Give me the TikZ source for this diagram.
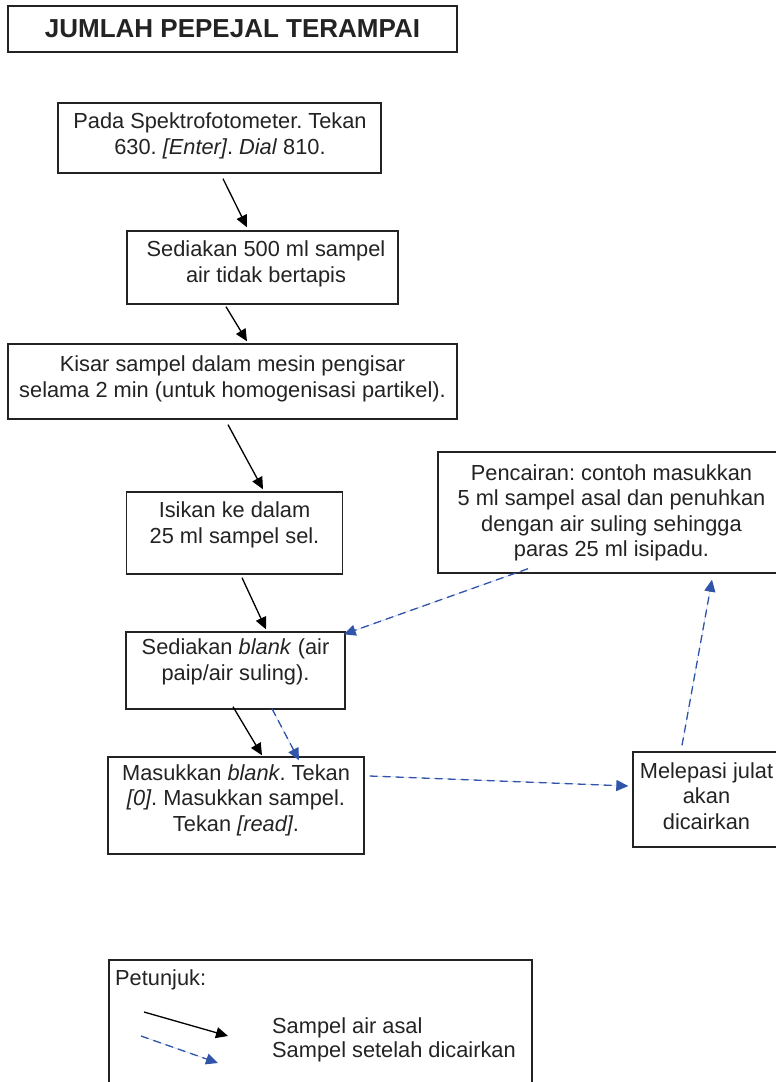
\documentclass[tikz,border=0pt]{standalone}
\usepackage{fontspec}
\setmainfont{Liberation Sans}
\usetikzlibrary{arrows.meta,calc}
\definecolor{dblue}{RGB}{47,84,170}
\definecolor{ink}{RGB}{35,35,35}
\frenchspacing
\begin{document}
\begin{tikzpicture}[x=1pt,y=-1pt,
  box/.style={draw=ink,line width=1.4pt,inner sep=0pt,rectangle},
  txt/.style={font=\fontsize{21.8}{25.5}\selectfont,align=center,text=ink,inner sep=0pt},
  arr/.style={-{Triangle[length=12pt,width=11pt]},line width=1.3pt,draw=black,fill=black},
  darr/.style={-{Triangle[length=12pt,width=11pt]},line width=1.3pt,draw=dblue,fill=dblue,dash pattern=on 8pt off 5pt}
]
\useasboundingbox (0,0) rectangle (776,1082);
\fill[white] (0,0) rectangle (776,1082);

% title
\node[box,minimum width=449,minimum height=46,font=\bfseries\fontsize{26}{30}\selectfont,text=ink] (title) at (232.5,29) {JUMLAH PEPEJAL TERAMPAI};

% boxes
\node[box,minimum width=323,minimum height=70] (b1) at (219.5,138) {};
\node[txt] (t1) at (220,136) {Pada Spektrofotometer. Tekan\\630. \textit{[Enter]}. \textit{Dial} 810.};

\node[box,minimum width=271,minimum height=73] (b2) at (262.5,267.5) {};
\node[txt] (t2) at (266,264) {Sediakan 500 ml sampel\\air tidak bertapis};

\node[box,minimum width=449,minimum height=75] (b3) at (232.5,381.5) {};
\node[txt] (t3) at (232.5,379) {Kisar sampel dalam mesin pengisar\\selama 2 min (untuk homogenisasi partikel).};

\node[box,minimum width=216,minimum height=82] (b4) at (234.5,533) {};
\node[txt] (t4) at (234.5,525) {Isikan ke dalam\\25 ml sampel sel.};

\node[box,minimum width=219,minimum height=77] (b5) at (235.5,670.5) {};
\node[txt] (t5) at (235.5,662) {Sediakan \textit{blank} (air\\paip/air suling).};

\node[box,minimum width=256,minimum height=97] (b6) at (236,805.5) {};
\node[txt] (t6) at (236,800) {Masukkan \textit{blank}. Tekan\\\textit{[0]}. Masukkan sampel.\\Tekan \textit{[read]}.};

\node[box,minimum width=342,minimum height=121] (b7) at (609,512.5) {};
\node[txt] (t7) at (611.5,513) {Pencairan: contoh masukkan\\5 ml sampel asal dan penuhkan\\dengan air suling sehingga\\paras 25 ml isipadu.};

\node[box,minimum width=147,minimum height=95] (b8) at (706.5,799.5) {};
\node[txt] (t8) at (706.5,796) {Melepasi julat\\akan\\dicairkan};

% legend
\node[box,minimum width=423,minimum height=140] (leg) at (320.5,1030) {};
\node[txt,anchor=west] (lt0) at (115,980) {Petunjuk:};
\node[txt,anchor=west] (lt1) at (272,1028) {Sampel air asal};
\node[txt,anchor=west] (lt2) at (272,1052) {Sampel setelah dicairkan};
\coordinate (l1s) at (144,1012);
\coordinate (l1e) at (228,1036);
\coordinate (l2s) at (141,1036);
\coordinate (l2e) at (218,1063);
\draw[arr] (l1s) -- (l1e);
\draw[darr] (l2s) -- (l2e);

% black connectors
\draw[arr] ($(b1.south)+(3.5,5)$) -- ($(b2.north)+(-15.5,-3)$);
\draw[arr] ($(b2.south)+(-36.5,2)$) -- ($(b3.north)+(14.5,-2)$);
\draw[arr] ($(b3.south)+(-4.5,5)$) -- ($(b4.north)+(28.5,-2)$);
\draw[arr] ($(b4.south)+(7.5,3)$) -- ($(b5.north)+(30.5,-2)$);
\draw[arr] ($(b5.south)+(-2.5,-3)$) -- ($(b6.north)+(26,-1)$);

% blue dashed connectors
\draw[darr] ($(b5.south)+(36.5,-1)$) -- ($(b6.north)+(63,4)$);
\draw[darr] ($(b6.east)+(5,-29.5)$) -- ($(b8.west)+(-4,-13.5)$);
\draw[darr] ($(b8.north)+(-24.5,-6)$) -- ($(b7.south)+(103,6)$);
\draw[darr] ($(b7.south)+(-81,-5)$) -- ($(b5.north east)+(-2,3)$);
\end{tikzpicture}
\end{document}
